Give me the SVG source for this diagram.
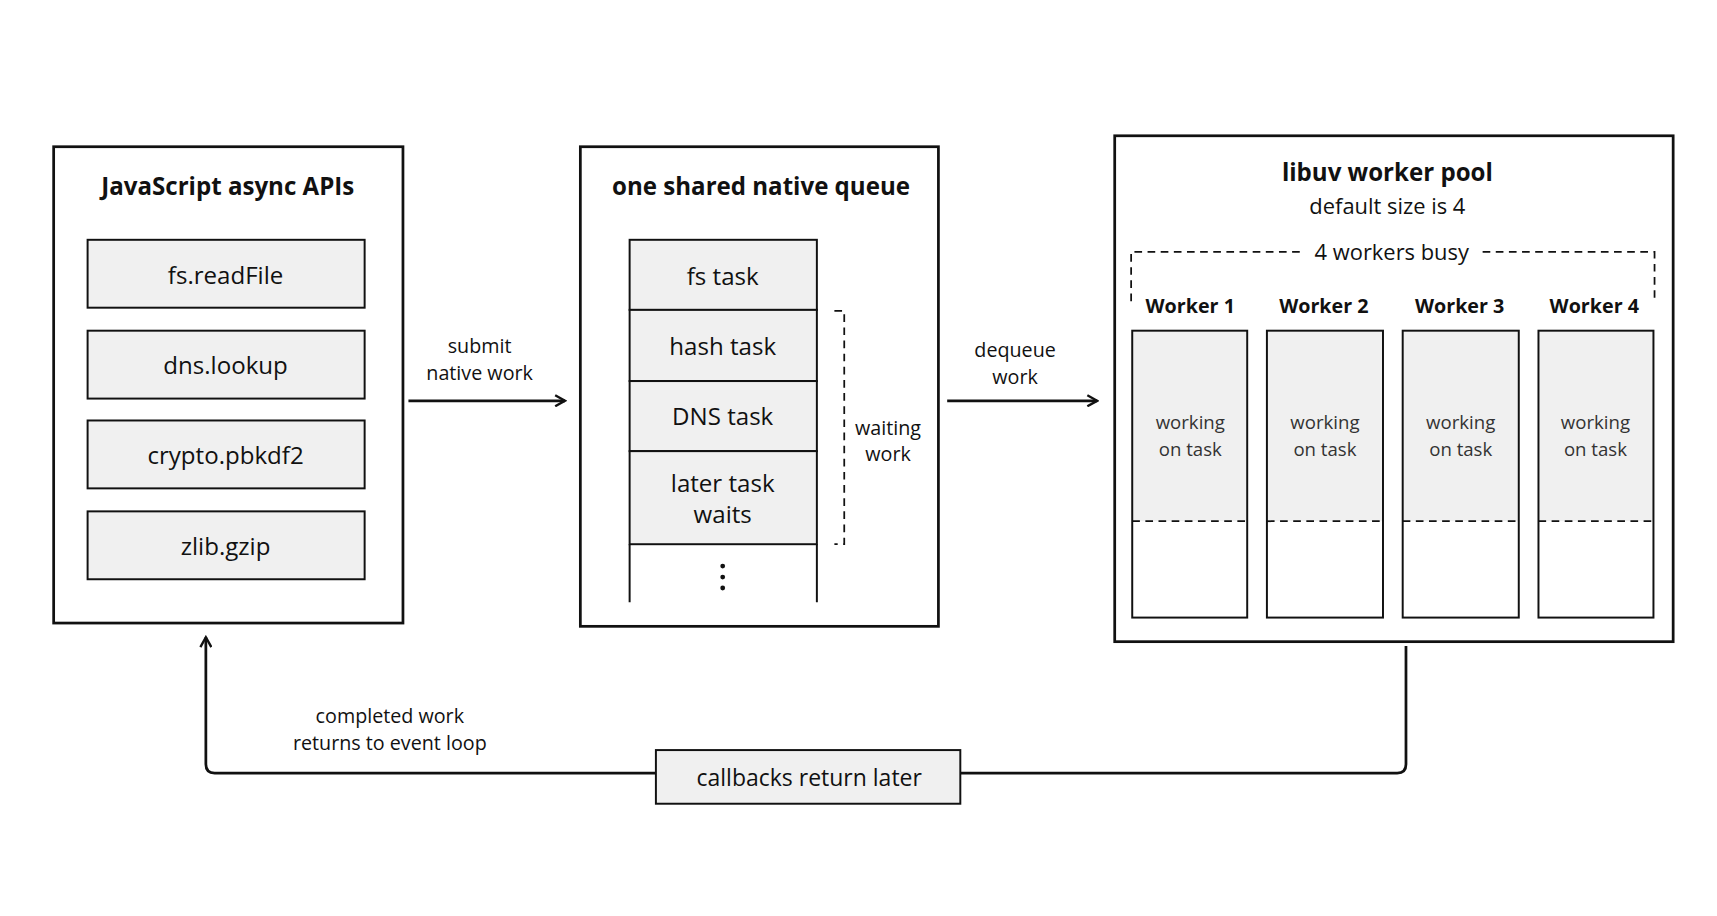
<svg xmlns="http://www.w3.org/2000/svg" width="1717" height="916" viewBox="0 0 1717 916">
<style>
text{font-family:"Open Sans","Noto Sans",sans-serif;fill:#111;text-anchor:middle}
.t{font-size:22px;font-weight:bold}
.i{font-size:22px}
.l{font-size:18px}
.s{font-size:17px;fill:#333}
.wl{font-size:18px;font-weight:bold}
.box{fill:#fff;stroke:#111;stroke-width:2.5}
.it{fill:#f0f0f0;stroke:#111;stroke-width:1.8}
.ln{fill:none;stroke:#111;stroke-width:2.5}
.d{fill:none;stroke:#111;stroke-width:1.6;stroke-dasharray:7 5}
</style>
<defs><marker id="a" viewBox="0 0 12 12" refX="10" refY="6" markerWidth="12" markerHeight="12" markerUnits="userSpaceOnUse" orient="auto"><path d="M1,1 L10,6 L1,11" fill="none" stroke="#111" stroke-width="2.2"/></marker></defs>
<rect width="1717" height="916" fill="#fff"/>
<g transform="scale(1.095)">
<g id="js">
<rect class="box" x="49" y="134" width="319" height="435"/>
<text class="t" x="208" y="178">JavaScript async APIs</text>
<rect class="it" x="80" y="219" width="253" height="62"/><text class="i" x="206" y="259">fs.readFile</text>
<rect class="it" x="80" y="302" width="253" height="62"/><text class="i" x="206" y="342">dns.lookup</text>
<rect class="it" x="80" y="384" width="253" height="62"/><text class="i" x="206" y="424">crypto.pbkdf2</text>
<rect class="it" x="80" y="467" width="253" height="62"/><text class="i" x="206" y="507">zlib.gzip</text>
</g>
<g id="queue">
<rect class="box" x="530" y="134" width="327" height="438"/>
<text class="t" x="695" y="178">one shared native queue</text>
<rect class="it" x="575" y="219" width="171" height="64"/><text class="i" x="660" y="260">fs task</text>
<rect class="it" x="575" y="283" width="171" height="65"/><text class="i" x="660" y="324">hash task</text>
<rect class="it" x="575" y="348" width="171" height="64"/><text class="i" x="660" y="388">DNS task</text>
<rect class="it" x="575" y="412" width="171" height="85"/><text class="i" x="660" y="449">later task</text><text class="i" x="660" y="478">waits</text>
<path d="M575,497 V550 M746,497 V550" class="ln" style="stroke-width:1.8"/>
<circle cx="660" cy="517" r="2.2" fill="#111"/><circle cx="660" cy="527" r="2.2" fill="#111"/><circle cx="660" cy="537" r="2.2" fill="#111"/>
<path class="d" d="M762,284 H771 V497 H762"/>
<text class="l" x="811" y="397">waiting</text><text class="l" x="811" y="421">work</text>
</g>
<g id="pool">
<rect class="box" x="1018" y="124" width="510" height="462"/>
<text class="t" x="1267" y="165">libuv worker pool</text>
<text class="i" x="1267" y="195" style="font-size:20px">default size is 4</text>
<path class="d" d="M1033,275 V230 H1190 M1354,230 H1511 V275"/>
<text class="l" x="1271" y="237" style="font-size:20px">4 workers busy</text>
<text class="wl" x="1087" y="286">Worker 1</text><text class="wl" x="1209" y="286">Worker 2</text><text class="wl" x="1333" y="286">Worker 3</text><text class="wl" x="1456" y="286">Worker 4</text>
<g>
<rect x="1034" y="302" width="105" height="174" fill="#f0f0f0"/><rect x="1034" y="302" width="105" height="262" fill="none" stroke="#111" stroke-width="1.8"/><path class="d" d="M1034,476 H1139"/>
<text class="s" x="1087" y="392">working</text><text class="s" x="1087" y="416">on task</text>
<rect x="1157" y="302" width="106" height="174" fill="#f0f0f0"/><rect x="1157" y="302" width="106" height="262" fill="none" stroke="#111" stroke-width="1.8"/><path class="d" d="M1157,476 H1263"/>
<text class="s" x="1210" y="392">working</text><text class="s" x="1210" y="416">on task</text>
<rect x="1281" y="302" width="106" height="174" fill="#f0f0f0"/><rect x="1281" y="302" width="106" height="262" fill="none" stroke="#111" stroke-width="1.8"/><path class="d" d="M1281,476 H1387"/>
<text class="s" x="1334" y="392">working</text><text class="s" x="1334" y="416">on task</text>
<rect x="1405" y="302" width="105" height="174" fill="#f0f0f0"/><rect x="1405" y="302" width="105" height="262" fill="none" stroke="#111" stroke-width="1.8"/><path class="d" d="M1405,476 H1510"/>
<text class="s" x="1457" y="392">working</text><text class="s" x="1457" y="416">on task</text>
</g>
</g>
<g id="connectors">
<path class="ln" d="M373,366 H516" marker-end="url(#a)"/>
<text class="l" x="438" y="322">submit</text><text class="l" x="438" y="347">native work</text>
<path class="ln" d="M865,366 H1002" marker-end="url(#a)"/>
<text class="l" x="927" y="326">dequeue</text><text class="l" x="927" y="351">work</text>
<path class="ln" d="M1284,590 V698 Q1284,706 1276,706 H196 Q188,706 188,698 V582" marker-end="url(#a)"/>
<text class="l" x="356" y="660">completed work</text><text class="l" x="356" y="685">returns to event loop</text>
</g>
<g id="callbacks">
<rect class="it" x="599" y="685" width="278" height="49"/>
<text class="i" x="739" y="718" style="font-size:21px">callbacks return later</text>
</g>
</g>
</svg>
